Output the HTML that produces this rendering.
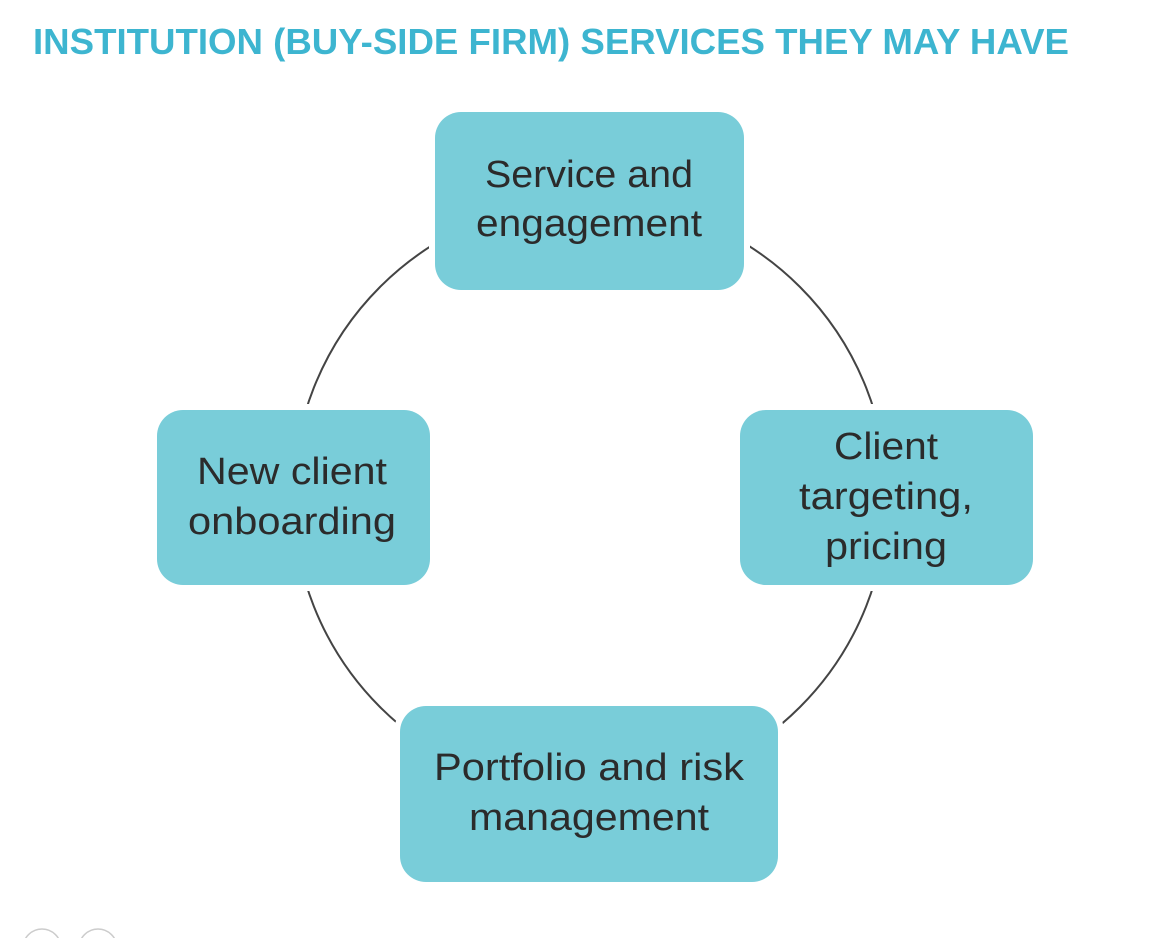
<!DOCTYPE html>
<html><head><meta charset="utf-8"><style>
html,body{margin:0;padding:0;background:#fff;}
svg{display:block;}
text{font-family:"Liberation Sans",sans-serif;}
.lbl{font-size:38px;fill:#2b2b2b;text-anchor:middle;}
</style></head><body>
<svg width="1167" height="938" viewBox="0 0 1167 938">
<text x="33" y="54" font-size="36" font-weight="bold" fill="#3db5d0" textLength="1036" lengthAdjust="spacingAndGlyphs">INSTITUTION (BUY-SIDE FIRM) SERVICES THEY MAY HAVE</text>
<circle cx="590" cy="497" r="297" fill="none" stroke="#444" stroke-width="2"/>
<g>
<rect x="429" y="106" width="321" height="190" rx="32" fill="#fff"/>
<rect x="435" y="112" width="309" height="178" rx="26" fill="#79cdd9"/>
<text class="lbl" x="589" y="187" textLength="208" lengthAdjust="spacingAndGlyphs">Service and</text>
<text class="lbl" x="589" y="236" textLength="226" lengthAdjust="spacingAndGlyphs">engagement</text>
</g>
<g>
<rect x="734" y="404" width="305" height="187" rx="32" fill="#fff"/>
<rect x="740" y="410" width="293" height="175" rx="26" fill="#79cdd9"/>
<text class="lbl" x="886" y="459" textLength="104" lengthAdjust="spacingAndGlyphs">Client</text>
<text class="lbl" x="886" y="509" textLength="174" lengthAdjust="spacingAndGlyphs">targeting,</text>
<text class="lbl" x="886" y="559" textLength="122" lengthAdjust="spacingAndGlyphs">pricing</text>
</g>
<g>
<rect x="394" y="700" width="390" height="188" rx="32" fill="#fff"/>
<rect x="400" y="706" width="378" height="176" rx="26" fill="#79cdd9"/>
<text class="lbl" x="589" y="780" textLength="310" lengthAdjust="spacingAndGlyphs">Portfolio and risk</text>
<text class="lbl" x="589" y="830" textLength="240" lengthAdjust="spacingAndGlyphs">management</text>
</g>
<g>
<rect x="151" y="404" width="285" height="187" rx="32" fill="#fff"/>
<rect x="157" y="410" width="273" height="175" rx="26" fill="#79cdd9"/>
<text class="lbl" x="292" y="484" textLength="190" lengthAdjust="spacingAndGlyphs">New client</text>
<text class="lbl" x="292" y="534" textLength="208" lengthAdjust="spacingAndGlyphs">onboarding</text>
</g>
<circle cx="42" cy="948" r="19" fill="none" stroke="#ccc" stroke-width="1.5"/>
<circle cx="98" cy="948" r="19" fill="none" stroke="#ccc" stroke-width="1.5"/>
</svg>
</body></html>
